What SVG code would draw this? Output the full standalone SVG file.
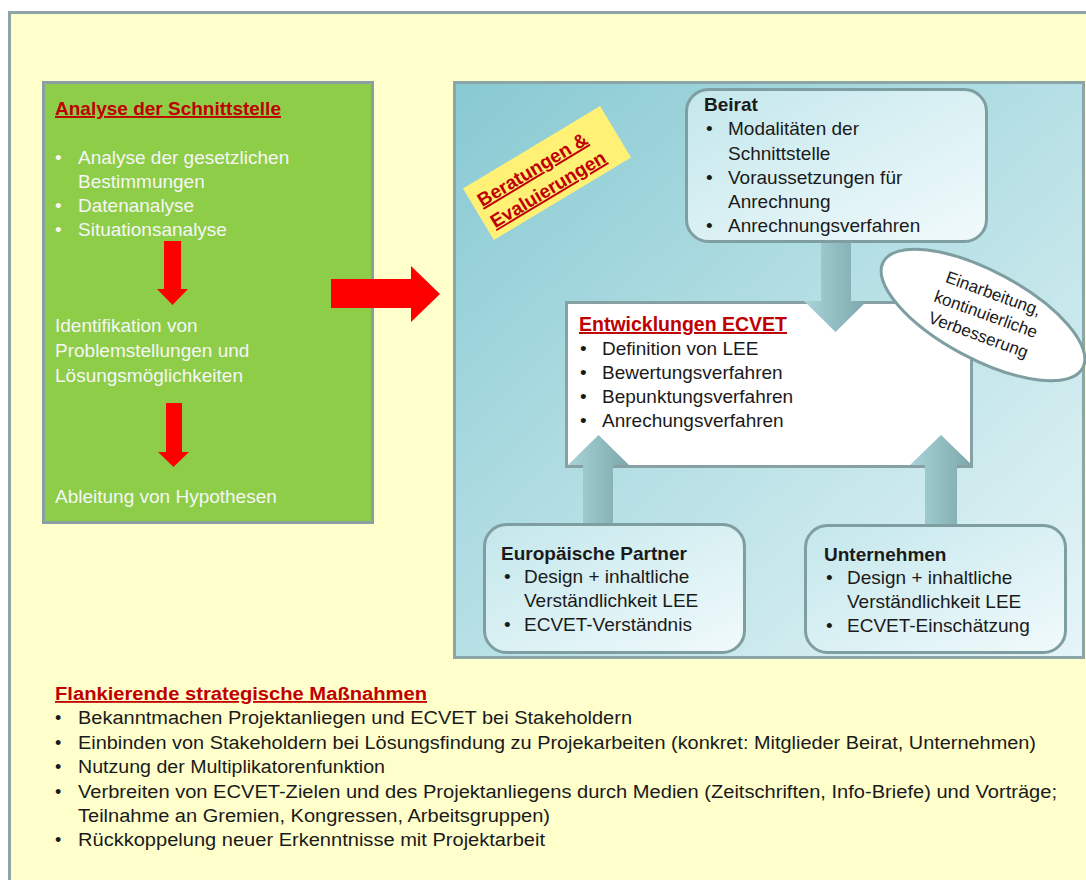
<svg xmlns="http://www.w3.org/2000/svg" width="1086" height="880" viewBox="0 0 1086 880">
<defs>
<linearGradient id="panelGrad" x1="0" y1="0" x2="1" y2="1">
<stop offset="0" stop-color="#88c9d2"/>
<stop offset="0.5" stop-color="#b6e0e5"/>
<stop offset="1" stop-color="#e6f5f7"/>
</linearGradient>
<linearGradient id="boxGrad" x1="0" y1="0" x2="1" y2="1">
<stop offset="0" stop-color="#c3e7ec"/>
<stop offset="1" stop-color="#f1fafb"/>
</linearGradient>
<linearGradient id="arrowGrad" x1="0" y1="0" x2="1" y2="0">
<stop offset="0" stop-color="#a8d3d7"/>
<stop offset="0.5" stop-color="#92bec2"/>
<stop offset="1" stop-color="#7ca6aa"/>
</linearGradient>
<style>
text{font-family:"Liberation Sans",Arial,sans-serif;}
.t{font-size:19px;fill:#1a1a1a;}
.w{font-size:19px;fill:#f6f6f6;}
.b{font-weight:bold;}
.h{font-size:19px;font-weight:bold;fill:#c00000;text-decoration:underline;}
.red{fill:#ff0000;}
.blk{fill:url(#arrowGrad);}
.rbox{fill:url(#boxGrad);stroke:#7f9ea2;stroke-width:3;}
.bt{font-size:18px;fill:#1a1a1a;}
</style>
</defs>

<rect id="background" x="9.5" y="12.5" width="1090" height="880" fill="#ffffcc" stroke="#8ea4a8" stroke-width="3"/>

<g id="analyse">
<rect x="43.5" y="82.5" width="329" height="440" fill="#8dcd48" stroke="#8a9fa3" stroke-width="3"/>
<text class="h" x="55" y="115">Analyse der Schnittstelle</text>
<text class="w" x="55" y="164">•</text>
<text class="w" x="78" y="164">Analyse der gesetzlichen</text>
<text class="w" x="78" y="188">Bestimmungen</text>
<text class="w" x="55" y="212">•</text>
<text class="w" x="78" y="212">Datenanalyse</text>
<text class="w" x="55" y="236">•</text>
<text class="w" x="78" y="236">Situationsanalyse</text>
<text class="w" x="55" y="332">Identifikation von</text>
<text class="w" x="55" y="357">Problemstellungen und</text>
<text class="w" x="55" y="382">Lösungsmöglichkeiten</text>
<text class="w" x="55" y="503">Ableitung von Hypothesen</text>
</g>

<g id="panel">
<rect x="454.5" y="82.5" width="629" height="575" fill="url(#panelGrad)" stroke="#8ca5a8" stroke-width="3"/>
</g>

<g id="entwicklungen">
<rect x="566.5" y="302.5" width="405" height="164" fill="#ffffff" stroke="#86a0a4" stroke-width="3"/>
<text class="h" x="579" y="331" style="font-size:19.5px">Entwicklungen ECVET</text>
<text class="t" x="580" y="355">•</text>
<text class="t" x="602" y="355">Definition von LEE</text>
<text class="t" x="580" y="379">•</text>
<text class="t" x="602" y="379">Bewertungsverfahren</text>
<text class="t" x="580" y="403">•</text>
<text class="t" x="602" y="403">Bepunktungsverfahren</text>
<text class="t" x="580" y="427">•</text>
<text class="t" x="602" y="427">Anrechungsverfahren</text>
</g>

<g id="connectors">
<polygon class="red" points="164,241 181,241 181,289 188,289 172.5,305 157,289 164,289"/>
<polygon class="red" points="166,403 182,403 182,452 189,452 173.5,467 158,452 166,452"/>
<polygon class="red" points="331,279 411,279 411,266 440,294 411,322 411,308 331,308"/>
<polygon class="blk" points="821,243 851,243 851,301 867,301 835.5,332 804,301 821,301"/>
<polygon class="blk" points="583,524 583,465 568,465 598.5,435 629,465 613,465 613,524"/>
<polygon class="blk" points="925,525 925,465 910,465 941,435 972,465 957,465 957,525"/>
</g>

<g id="einarbeitung">
<ellipse cx="983" cy="315" rx="113" ry="44" transform="rotate(28 983 315)" fill="#ffffff" stroke="#7f9ea2" stroke-width="3"/>
<g transform="translate(986 314) rotate(20)" style="font-size:17px;fill:#1a1a1a" text-anchor="middle">
<text x="0" y="-16">Einarbeitung,</text>
<text x="0" y="6">kontinuierliche</text>
<text x="0" y="28">Verbesserung</text>
</g>
</g>

<g id="beratungen">
<g transform="translate(547 173) rotate(-31)">
<rect x="-80" y="-30" width="160" height="60" fill="#fff176"/>
<text class="h" x="-73" y="-4" style="font-size:19px">Beratungen &amp;</text>
<text class="h" x="-73" y="21" style="font-size:19px">Evaluierungen</text>
</g>
</g>

<g id="beirat">
<rect class="rbox" x="686.5" y="89.5" width="300" height="152" rx="22"/>
<text class="t b" x="704" y="111">Beirat</text>
<text class="t" x="706" y="135">•</text>
<text class="t" x="728" y="135">Modalitäten der</text>
<text class="t" x="728" y="160">Schnittstelle</text>
<text class="t" x="706" y="184">•</text>
<text class="t" x="728" y="184">Voraussetzungen für</text>
<text class="t" x="728" y="208">Anrechnung</text>
<text class="t" x="706" y="232">•</text>
<text class="t" x="728" y="232">Anrechnungsverfahren</text>
</g>

<g id="partner">
<rect class="rbox" x="484.5" y="524.5" width="260" height="128" rx="22"/>
<text class="t b" x="501" y="560">Europäische Partner</text>
<text class="t" x="504" y="583">•</text>
<text class="t" x="524" y="583">Design + inhaltliche</text>
<text class="t" x="524" y="607">Verständlichkeit LEE</text>
<text class="t" x="504" y="631">•</text>
<text class="t" x="524" y="631">ECVET-Verständnis</text>
</g>

<g id="unternehmen">
<rect class="rbox" x="805.5" y="525.5" width="260" height="127" rx="22"/>
<text class="t b" x="824" y="561">Unternehmen</text>
<text class="t" x="826" y="584">•</text>
<text class="t" x="847" y="584">Design + inhaltliche</text>
<text class="t" x="847" y="608">Verständlichkeit LEE</text>
<text class="t" x="826" y="632">•</text>
<text class="t" x="847" y="632">ECVET-Einschätzung</text>
</g>

<g id="massnahmen">
<text class="h" x="55" y="700" style="font-size:18px" textLength="372" lengthAdjust="spacingAndGlyphs">Flankierende strategische Maßnahmen</text>
<text class="bt" x="55" y="724">•</text>
<text class="bt" x="78" y="724" textLength="554" lengthAdjust="spacingAndGlyphs">Bekanntmachen  Projektanliegen und ECVET bei Stakeholdern</text>
<text class="bt" x="55" y="749">•</text>
<text class="bt" x="78" y="749" textLength="958" lengthAdjust="spacingAndGlyphs">Einbinden von Stakeholdern bei Lösungsfindung zu Projekarbeiten (konkret: Mitglieder Beirat, Unternehmen)</text>
<text class="bt" x="55" y="773">•</text>
<text class="bt" x="78" y="773" textLength="307" lengthAdjust="spacingAndGlyphs">Nutzung  der Multiplikatorenfunktion</text>
<text class="bt" x="55" y="798">•</text>
<text class="bt" x="78" y="798" textLength="979" lengthAdjust="spacingAndGlyphs">Verbreiten von ECVET-Zielen und des Projektanliegens durch Medien (Zeitschriften,  Info-Briefe) und Vorträge;</text>
<text class="bt" x="78" y="822" textLength="472" lengthAdjust="spacingAndGlyphs">Teilnahme an Gremien, Kongressen, Arbeitsgruppen)</text>
<text class="bt" x="55" y="846">•</text>
<text class="bt" x="78" y="846" textLength="467" lengthAdjust="spacingAndGlyphs">Rückkoppelung neuer Erkenntnisse mit Projektarbeit</text>
</g>
</svg>
